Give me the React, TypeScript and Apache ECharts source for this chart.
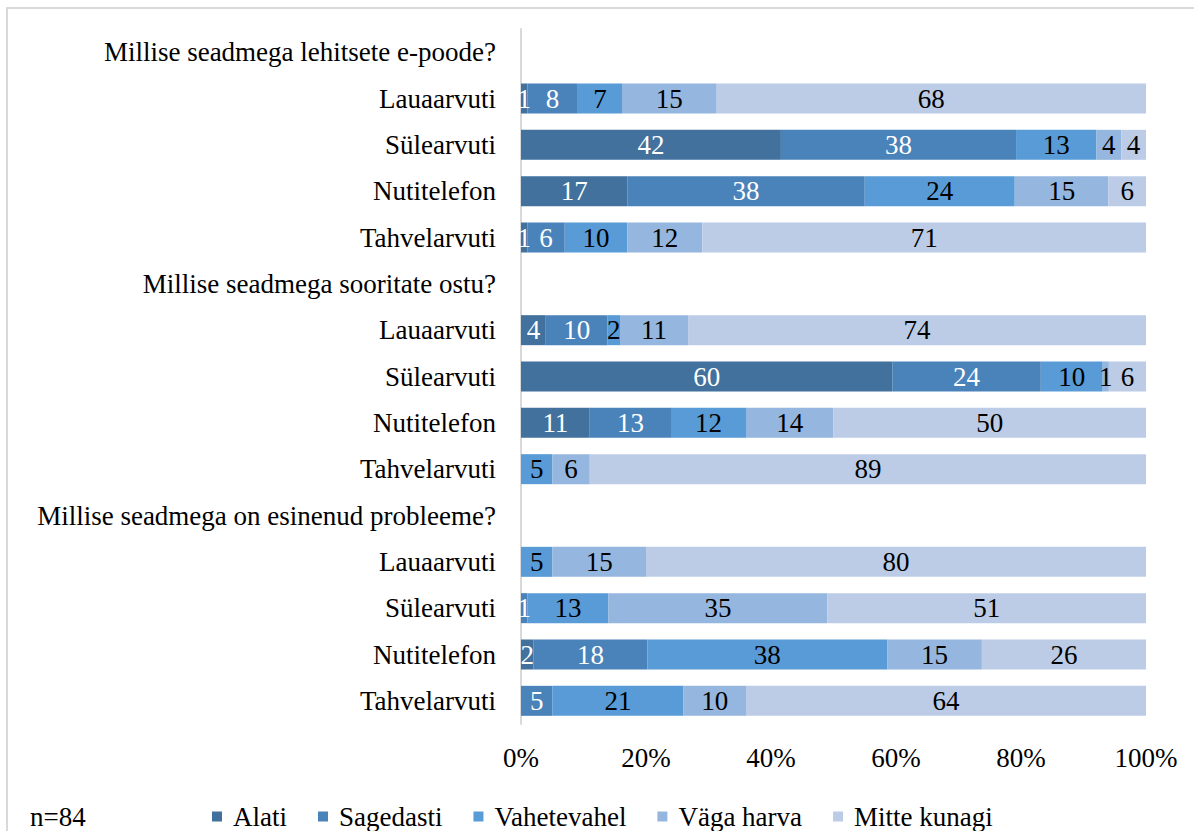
import React, { useEffect, useRef } from "react";
import * as echarts from "echarts";

// Row labels, top to bottom (question headers have no bars)
const rowLabels = [
  "Millise seadmega lehitsete e-poode?",
  "Lauaarvuti",
  "Sülearvuti",
  "Nutitelefon",
  "Tahvelarvuti",
  "Millise seadmega sooritate ostu?",
  "Lauaarvuti",
  "Sülearvuti",
  "Nutitelefon",
  "Tahvelarvuti",
  "Millise seadmega on esinenud probleeme?",
  "Lauaarvuti",
  "Sülearvuti",
  "Nutitelefon",
  "Tahvelarvuti",
];

const answerNames = ["Alati", "Sagedasti", "Vahetevahel", "Väga harva", "Mitte kunagi"];

// Share of respondents (%) per answer, one entry per row; null = header row
const alati = [null, 1, 42, 17, 1, null, 4, 60, 11, 0, null, 0, 0, 2, 0];
const sagedasti = [null, 8, 38, 38, 6, null, 10, 24, 13, 0, null, 0, 1, 18, 5];
const vahetevahel = [null, 7, 13, 24, 10, null, 2, 10, 12, 5, null, 5, 13, 38, 21];
const vagaHarva = [null, 15, 4, 15, 12, null, 11, 1, 14, 6, null, 15, 35, 15, 10];
const mitteKunagi = [null, 68, 4, 6, 71, null, 74, 6, 50, 89, null, 80, 51, 26, 64];

const sampleNote = "n=84";

const seriesValues = [alati, sagedasti, vahetevahel, vagaHarva, mitteKunagi];
const colors = ["#41719C", "#4A82BA", "#599BD6", "#95B6DE", "#BCCCE7"];
const labelColors = ["#ffffff", "#ffffff", "#000000", "#000000", "#000000"];
const FONT = "'Liberation Serif', 'Times New Roman', serif";
const FS = 27;

export default function App() {
  const ref = useRef<HTMLDivElement>(null);

  useEffect(() => {
    if (!ref.current) return;
    const chart = echarts.init(ref.current, null, { renderer: "svg" });

    // 100 % stacked: each row is scaled by its own total
    const rowTotals = rowLabels.map((_, r) =>
      seriesValues.reduce((s, arr) => s + (arr[r] ?? 0), 0)
    );

    const series = seriesValues.map((arr, i) => ({
      name: answerNames[i],
      type: "bar",
      stack: "total",
      barWidth: 30,
      itemStyle: { color: colors[i] },
      label: {
        show: true,
        position: "inside",
        color: labelColors[i],
        fontFamily: FONT,
        fontSize: FS,
        formatter: (p: any) => (p.data && p.data.raw > 0 ? String(p.data.raw) : ""),
      },
      data: arr.map((v, r) =>
        v == null || rowTotals[r] === 0
          ? { value: 0, raw: 0 }
          : { value: (v / rowTotals[r]) * 100, raw: v }
      ),
    }));

    chart.setOption({
      animation: false,
      backgroundColor: "#ffffff",
      grid: { left: 521, right: 48, top: 29, bottom: 107, containLabel: false },
      xAxis: {
        type: "value",
        min: 0,
        max: 100,
        interval: 20,
        axisLine: { show: false },
        axisTick: { show: false },
        splitLine: { show: false },
        axisLabel: {
          formatter: "{value}%",
          color: "#000",
          fontFamily: FONT,
          fontSize: FS,
          margin: 20,
        },
      },
      yAxis: {
        type: "category",
        inverse: true,
        data: rowLabels,
        axisTick: { show: false },
        axisLine: { show: true, lineStyle: { color: "#d9d9d9", width: 2 } },
        axisLabel: {
          color: "#000",
          fontFamily: FONT,
          fontSize: FS,
          margin: 25,
        },
      },
      legend: {
        left: 212,
        top: 803,
        padding: 0,
        itemWidth: 10,
        itemHeight: 10,
        itemGap: 31,
        icon: "rect",
        data: answerNames,
        textStyle: {
          color: "#000",
          fontFamily: FONT,
          fontSize: FS,
          lineHeight: 27,
          padding: [0, 0, 0, 6],
        },
      },
      graphic: [
        {
          type: "rect",
          silent: true,
          shape: { x: 7, y: 8, width: 1300, height: 1000 },
          style: { fill: "none", stroke: "#d9d9d9", lineWidth: 2 },
          z: -1,
        },
        {
          type: "text",
          left: 30,
          top: 803,
          style: { text: sampleNote, fill: "#000", font: `${FS}px ${FONT}` },
        },
      ],
      series,
    });

    return () => chart.dispose();
  }, []);

  return (
    <div
      ref={ref}
      style={{ position: "fixed", left: 0, top: 0, width: 1194, height: 831 }}
    />
  );
}
